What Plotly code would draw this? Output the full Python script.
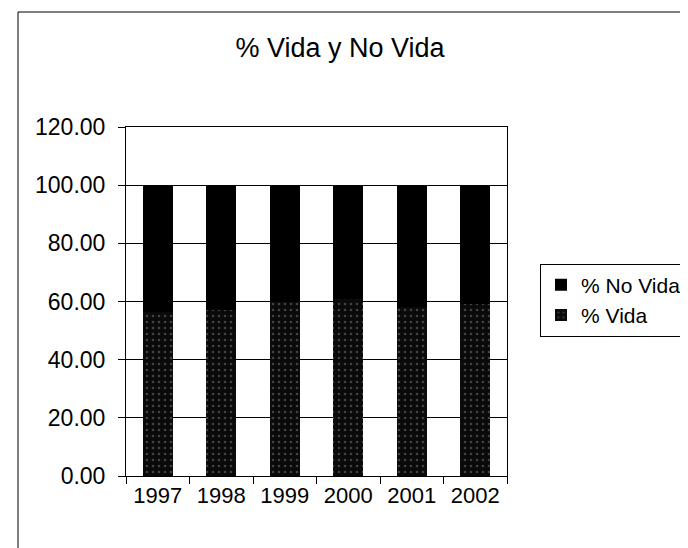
import plotly.graph_objects as go

years = ['1997', '1998', '1999', '2000', '2001', '2002']
vida = [56.3, 57.0, 59.7, 61.0, 58.0, 59.3]
no_vida = [round(100 - v, 2) for v in vida]

fig = go.Figure()
fig.add_trace(go.Bar(name='% Vida', x=years, y=vida,
                     marker=dict(color='#0a0a0a', line=dict(width=0),
                                 pattern=dict(shape='.', fgcolor='#7a7a7a',
                                              bgcolor='#0a0a0a', size=6, solidity=0.15))))
fig.add_trace(go.Bar(name='% No Vida', x=years, y=no_vida,
                     marker=dict(color='#000000', line=dict(width=0))))

# page body has an 8px margin, so work in screen pixels and shift
OFF = 8
W, H = 680, 540
L, T = 126 - OFF, 127 - OFF
pw, ph = 381, 349
R, B = W - L - pw, H - T - ph

def px(x):
    return (x - OFF - L) / pw

def py(y):
    return (T + ph - (y - OFF)) / ph

fig.update_layout(
    width=W, height=H,
    barmode='stack', bargap=0.53,
    plot_bgcolor='white', paper_bgcolor='white',
    margin=dict(l=L, r=R, t=T, b=B, autoexpand=False),
    font=dict(family='Liberation Sans, Arial', size=23, color='black'),
    title=dict(text='% Vida y No Vida', xref='container', x=(340 - OFF) / W,
               xanchor='center', yref='container', y=1 - (48 - OFF) / H,
               yanchor='middle', font=dict(family='Liberation Sans, Arial', size=27)),
    xaxis=dict(showline=True, linecolor='black', mirror=True, ticks='outside',
               tickson='boundaries', ticklen=7, tickcolor='black',
               tickangle=0, automargin=False, tickfont=dict(size=22)),
    yaxis=dict(range=[0, 120], dtick=20, tickformat='.2f', showgrid=True,
               gridcolor='black', gridwidth=1, showline=True, linecolor='black',
               mirror=True, ticks='outside', ticklen=7, tickcolor='black',
               ticklabelstandoff=8, zeroline=False, automargin=False,
               tickfont=dict(size=23)),
    legend=dict(x=px(540), xanchor='left', y=py(300), yanchor='middle',
                traceorder='reversed', bordercolor='black', borderwidth=1,
                font=dict(size=21), itemwidth=30),
    shapes=[
        dict(type='line', xref='paper', yref='paper', x0=px(18), x1=px(18),
             y0=py(12), y1=py(560), line=dict(color='black', width=1)),
        dict(type='line', xref='paper', yref='paper', x0=px(18), x1=px(700),
             y0=py(12), y1=py(12), line=dict(color='black', width=1)),
    ],
)

fig.write_html('out.html')
